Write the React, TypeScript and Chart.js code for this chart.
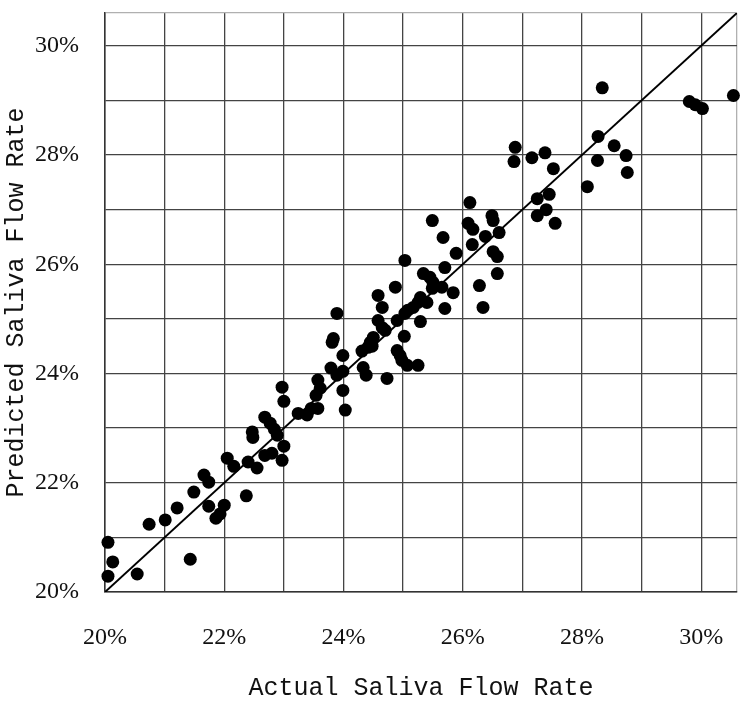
import React, { useEffect, useRef } from "react";
import { Chart, registerables } from "chart.js";

Chart.register(...registerables);

// Actual saliva flow rate (%)
const actualRate: number[] = [
  20.05, 20.13, 20.05, 20.54, 21.43, 20.74, 21.01, 21.21, 21.49, 21.66,
  21.74, 21.74, 22.0, 21.86, 21.93, 22.05, 22.16, 22.37, 22.4, 22.55,
  22.47, 22.48, 22.68, 22.77, 22.84, 22.89, 23.0, 22.68, 22.8, 22.97,
  22.97, 23.0, 23.24, 23.39, 23.46, 23.57, 23.57, 23.61, 23.54, 23.79,
  23.89, 23.99, 23.99, 24.03, 23.81, 23.99, 24.31, 24.41, 24.33, 24.38,
  23.89, 23.83, 24.5, 24.45, 24.48, 24.58, 24.65, 24.7, 24.58, 24.65,
  24.87, 24.9, 25.02, 24.9, 24.95, 24.98, 25.07, 25.25, 24.73, 25.03,
  25.08, 25.17, 25.25, 25.29, 25.4, 25.29, 25.03, 25.34, 25.45, 25.5,
  25.49, 25.65, 25.7, 25.67, 25.89, 25.84, 25.7, 25.49, 26.12, 26.09,
  26.17, 26.38, 26.61, 26.16, 26.49, 26.51, 26.51, 26.58, 26.58, 26.28,
  26.34, 26.88, 26.86, 27.16, 27.38, 27.52, 27.25, 27.45, 27.25, 27.4,
  27.55, 28.27, 28.26, 28.09, 28.34, 28.54, 28.74, 28.76, 29.8, 29.9,
  30.02, 30.54,
];

// Predicted saliva flow rate (%)
const predictedRate: number[] = [
  20.91, 20.55, 20.29, 20.33, 20.6, 21.24, 21.32, 21.54, 21.83, 22.14,
  22.01, 21.57, 21.59, 21.35, 21.43, 22.45, 22.3, 21.76, 22.38, 22.27,
  22.93, 22.83, 23.2, 23.09, 22.98, 22.87, 22.67, 22.5, 22.54, 22.41,
  23.75, 23.49, 23.27, 23.24, 23.36, 23.36, 23.88, 23.73, 23.6, 24.1,
  23.97, 24.04, 23.69, 23.33, 24.57, 24.33, 24.41, 24.48, 24.11, 23.97,
  25.1, 24.64, 24.66, 24.57, 24.5, 24.97, 24.84, 24.79, 25.43, 25.21,
  25.58, 24.97, 24.68, 24.42, 24.33, 24.24, 24.15, 24.15, 23.91, 25.1,
  25.16, 25.21, 25.3, 25.39, 25.3, 24.95, 26.07, 25.83, 25.76, 25.67,
  25.56, 25.58, 25.94, 26.49, 26.2, 25.48, 25.19, 26.8, 27.13, 26.75,
  26.64, 26.51, 26.58, 26.36, 26.89, 26.8, 26.23, 26.14, 25.83, 25.61,
  25.21, 28.14, 27.88, 27.95, 28.04, 27.75, 27.2, 27.28, 26.89, 27.0,
  26.75, 28.34, 27.9, 27.42, 29.23, 28.17, 27.99, 27.68, 28.98, 28.92,
  28.85, 29.09,
];

// Reference line y = x
const fitLineX: number[] = [20, 30.6];
const fitLineY: number[] = [20, 30.6];

const axisMin = 20;
const axisMax = 30.6;
// grid positions (every 1%), labelled every 2%
const gridValues: number[] = [20, 21, 22, 23, 24, 25, 26, 27, 28, 29, 30, 30.6];
const labelledValues: number[] = [20, 22, 24, 26, 28, 30];

const xTitle = "Actual Saliva Flow Rate";
const yTitle = "Predicted Saliva Flow Rate";

export default function App() {
  const canvasRef = useRef<HTMLCanvasElement | null>(null);

  useEffect(() => {
    document.body.style.margin = "0";
    const canvas = canvasRef.current;
    if (!canvas) return;

    const tickCb = (v: any) => {
      const n = Number(v);
      const hit = labelledValues.find((l) => Math.abs(l - n) < 1e-6);
      return hit !== undefined ? hit + "%" : "";
    };
    const gridColor = (ctx: any) => {
      const v = ctx.tick ? ctx.tick.value : 0;
      return Math.abs(v - axisMax) < 1e-6 ? "#b0b0b0" : "#444444";
    };
    const setTicks = (scale: any) => {
      scale.ticks = gridValues.map((value) => ({ value }));
    };
    const tickFont = { family: "'Liberation Serif', serif", size: 24 };
    const titleFont = { family: "'Liberation Mono', monospace", size: 25 };

    const chart = new Chart(canvas, {
      type: "scatter",
      data: {
        datasets: [
          {
            type: "scatter",
            label: "points",
            data: actualRate.map((x, i) => ({ x, y: predictedRate[i] })),
            backgroundColor: "#000000",
            borderWidth: 0,
            pointRadius: 6.5,
            pointHoverRadius: 6.5,
            clip: false as any,
          },
          {
            type: "line",
            label: "fit",
            data: fitLineX.map((x, i) => ({ x, y: fitLineY[i] })),
            borderColor: "#000000",
            borderWidth: 2,
            pointRadius: 0,
            fill: false,
          } as any,
        ],
      },
      options: {
        animation: false,
        responsive: false,
        maintainAspectRatio: false,
        layout: { padding: { top: 13, right: 13, left: 0, bottom: 0 } },
        plugins: {
          legend: { display: false },
          tooltip: { enabled: false },
        },
        scales: {
          x: {
            type: "linear",
            min: axisMin,
            max: axisMax,
            afterBuildTicks: setTicks,
            ticks: {
              callback: tickCb,
              font: tickFont,
              color: "#111111",
              padding: 31,
              maxRotation: 0,
              autoSkip: false,
            },
            grid: { color: gridColor, lineWidth: 1.3, drawTicks: false },
            border: { color: "#333333", width: 1.5 },
            title: {
              display: true,
              text: xTitle,
              font: titleFont,
              color: "#111111",
              padding: { top: 0, bottom: 2 },
            },
            afterFit: (scale: any) => {
              scale.height = 113;
              scale.paddingLeft = 0;
              scale.paddingRight = 0;
            },
          },
          y: {
            type: "linear",
            min: axisMin,
            max: axisMax,
            afterBuildTicks: setTicks,
            ticks: {
              callback: tickCb,
              font: tickFont,
              color: "#111111",
              padding: 26,
              autoSkip: false,
            },
            grid: { color: gridColor, lineWidth: 1.3, drawTicks: false },
            border: { color: "#333333", width: 1.5 },
            title: {
              display: true,
              text: yTitle,
              font: titleFont,
              color: "#111111",
              padding: { top: 1, bottom: 1 },
            },
            afterFit: (scale: any) => {
              scale.width = 105;
              scale.paddingTop = 0;
              scale.paddingBottom = 0;
            },
          },
        },
      },
    });

    return () => {
      chart.destroy();
    };
  }, []);

  return (
    <div style={{ position: "fixed", left: 0, top: 0, width: 750, height: 705, background: "#ffffff" }}>
      <canvas ref={canvasRef} width={750} height={705} style={{ width: 750, height: 705 }} />
    </div>
  );
}
